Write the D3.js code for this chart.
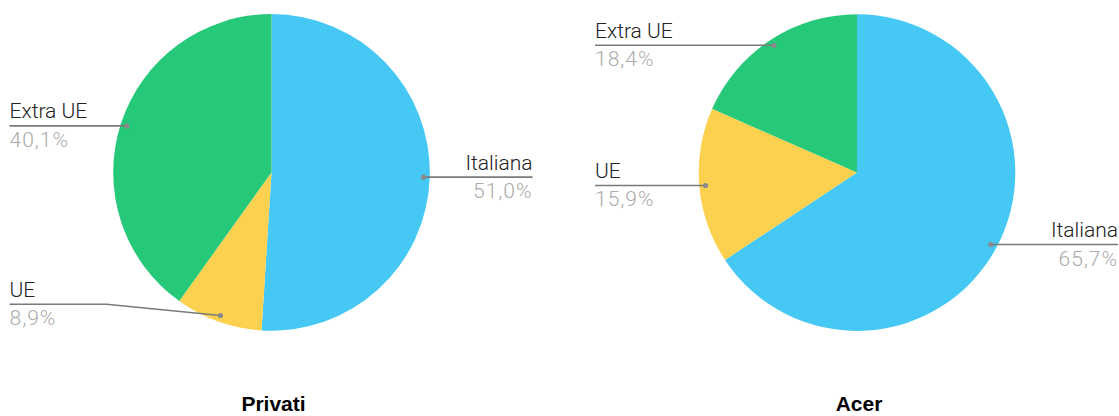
<!DOCTYPE html>
<html>
<head>
<meta charset="utf-8">
<script src="https://cdn.jsdelivr.net/npm/d3@7"></script>
<style>
  html, body { margin: 0; padding: 0; background: #fff; }
  svg { display: block; }
</style>
</head>
<body>
<svg id="chart" width="1119" height="416"></svg>
<script>
// Origin categories shared by both pies
const categories = ["Italiana", "UE", "Extra UE"];
const colors = ["#45c8f4", "#fcd14f", "#26c97a"];

// Percentage shares per group
const privatiValues = [51.0, 8.9, 40.1];
const acerValues = [65.7, 15.9, 18.4];

const chartTitles = ["Privati", "Acer"];
const percentLabelsPrivati = ["51,0%", "8,9%", "40,1%"];
const percentLabelsAcer = ["65,7%", "15,9%", "18,4%"];

const svg = d3.select("#chart");
const radius = 158.3;
const anchorRadius = 152;
const labelReach = 261;

const pieGen = d3.pie().sort(null).startAngle(0).endAngle(2 * Math.PI).value(d => d);
const arcGen = d3.arc().innerRadius(0).outerRadius(radius);

function drawPie(cx, cy, values, pctLabels, title) {
  const g = svg.append("g").attr("transform", `translate(${cx},${cy})`);
  const arcs = pieGen(values);

  g.selectAll("path.slice")
    .data(arcs)
    .join("path")
    .attr("class", "slice")
    .attr("d", arcGen)
    .attr("fill", (d, i) => colors[i]);

  const maxLineY = radius - 26.5;
  const minLineY = -radius + 30;

  arcs.forEach((a, i) => {
    const mid = (a.startAngle + a.endAngle) / 2;
    const ax = anchorRadius * Math.sin(mid);
    const ay = -anchorRadius * Math.cos(mid);
    const right = ax > 0;
    const lineY = Math.max(minLineY, Math.min(maxLineY, ay));
    const edgeX = right ? labelReach : -labelReach - 1;

    let pts;
    if (Math.abs(lineY - ay) < 0.5) {
      pts = [[edgeX, lineY], [ax, lineY]];
    } else {
      const bendX = edgeX + (ax - edgeX) * 0.46;
      pts = [[edgeX, lineY], [bendX, lineY], [ax, ay]];
    }

    g.append("path")
      .attr("d", d3.line()(pts))
      .attr("fill", "none")
      .attr("stroke", "#7a7a7a")
      .attr("stroke-width", 1.6);

    g.append("circle")
      .attr("cx", ax).attr("cy", ay).attr("r", 2.6)
      .attr("fill", "#8a8a8a");

    const anchor = right ? "end" : "start";
    g.append("text")
      .attr("x", edgeX).attr("y", lineY - 7.5)
      .attr("text-anchor", anchor)
      .attr("font-family", "Roboto, sans-serif")
      .attr("font-weight", 300)
      .attr("font-size", 21)
      .attr("fill", "#222")
      .text(categories[i]);

    g.append("text")
      .attr("x", edgeX).attr("y", lineY + 21)
      .attr("text-anchor", anchor)
      .attr("font-family", "Roboto, sans-serif")
      .attr("font-weight", 300)
      .attr("font-size", 21)
      .attr("letter-spacing", 1)
      .attr("fill", "#ababab")
      .text(pctLabels[i]);
  });

  svg.append("text")
    .attr("x", cx + 2).attr("y", 411)
    .attr("text-anchor", "middle")
    .attr("font-family", "Liberation Sans, Arial, sans-serif")
    .attr("font-weight", "bold")
    .attr("font-size", 21)
    .attr("fill", "#000")
    .text(title);
}

drawPie(271.5, 172.4, privatiValues, percentLabelsPrivati, chartTitles[0]);
drawPie(857, 172.6, acerValues, percentLabelsAcer, chartTitles[1]);
</script>
</body>
</html>
